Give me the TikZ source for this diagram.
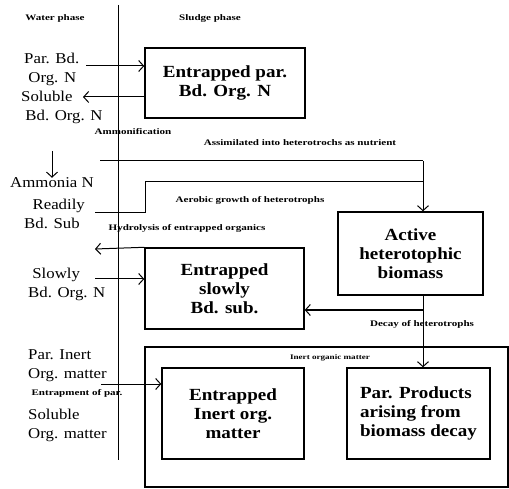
\documentclass[tikz,border=0pt]{standalone}
\usepackage{fontspec}
\setmainfont{Liberation Serif}[FakeStretch=1.12]
\newfontfamily\notefont{Liberation Serif}[FakeStretch=1.3]
\usetikzlibrary{arrows.meta}

\tikzset{
  box/.style={draw, line width=1.4pt, align=center, inner sep=0pt,
    font=\bfseries\fontsize{17}{19}\selectfont},
  side/.style={align=left, inner sep=0pt, font=\fontsize{15}{19}\selectfont},
  note/.style={inner sep=0pt, font=\notefont\bfseries\fontsize{8.5}{10}\selectfont},
  flow/.style={line width=1pt, -{Straight Barb[length=5pt,width=11pt]}},
  link/.style={line width=1pt}
}

\begin{document}
\begin{tikzpicture}[x=1pt,y=-1pt]
\useasboundingbox (0,0) rectangle (509,489);

% phase boundary
\draw[link] (118,5) -- (118,460);
\node[note] (water) at (55,18) {Water phase};
\node[note] (sludge) at (210,18) {Sludge phase};

% boxes in the sludge phase
\node[box, minimum width=160pt, minimum height=70pt] (parN) at (225,83) {Entrapped par.\\Bd. Org. N};
\node[box, minimum width=145pt, minimum height=83pt] (active) at (410.5,253.5) {Active\\heterotophic\\biomass};
\node[box, minimum width=159pt, minimum height=81pt] (slow) at (224.5,288.5) {Entrapped\\slowly\\Bd. sub.};
\node[draw, line width=1.4pt, minimum width=363pt, minimum height=140pt] (inert) at (326.5,417) {};
\node[note, font=\notefont\bfseries\fontsize{7}{8}\selectfont] (inertlbl) at (330,358) {Inert organic matter};
\node[box, minimum width=142pt, minimum height=91pt] (inertorg) at (233,413.5) {Entrapped\\Inert org.\\matter};
\node[box, minimum width=143pt, minimum height=91pt, align=left] (prod) at (418.5,413.5) {Par. Products\\arising from\\biomass decay};

% water phase components
\node[side, anchor=north west] (pbon) at (24,53) {Par. Bd.\\\ Org. N};
\node[side, anchor=north west] (sbon) at (21,91) {Soluble\\\ Bd. Org. N};
\node[side] (amm) at (52,183) {Ammonia N};
\node[side, anchor=north west] (rbs) at (24,199) {\ \ Readily\\Bd. Sub};
\node[side, anchor=north west] (sbn) at (28,268) {\ Slowly\\Bd. Org. N};
\node[side, anchor=north west] (pio) at (28,349) {Par. Inert\\Org. matter};
\node[side, anchor=north west] (som) at (28,409) {Soluble\\Org. matter};

% process labels
\node[note] (ammon) at (133,132) {Ammonification};
\node[note] (assim) at (300,143) {Assimilated into heterotrochs as nutrient};
\node[note] (aero) at (250,200) {Aerobic growth of heterotrophs};
\node[note] (hydro) at (187,228) {Hydrolysis of entrapped organics};
\node[note] (decay) at (422,324) {Decay of heterotrophs};
\node[note] (entr) at (77,393) {Entrapment of par.};

% connectors
\coordinate (jn) at (423,161);
\draw[flow] (86,66) -- (parN.west |- 0,66);
\draw[flow] (parN.west |- 0,97) -- (83,97);
\draw[flow] (52,151) -- (amm.north);
\draw[link] (100,161) -- (jn);
\draw[flow] (jn) -- (jn |- active.north);
\draw[link] (95,213) -- (145,213) -- (145,182) -- (jn |- 0,182);
\draw[flow] (slow.north west) -- (95,249);
\draw[flow] (95,279) -- (slow.west |- 0,279);
\draw[flow] (jn |- active.south) -- (jn |- 0,310) -- (slow.east |- 0,310);
\draw[flow] (jn |- 0,310) -- (jn |- prod.north);
\draw[flow] (101,384) -- (inertorg.west |- 0,384);
\end{tikzpicture}
\end{document}
